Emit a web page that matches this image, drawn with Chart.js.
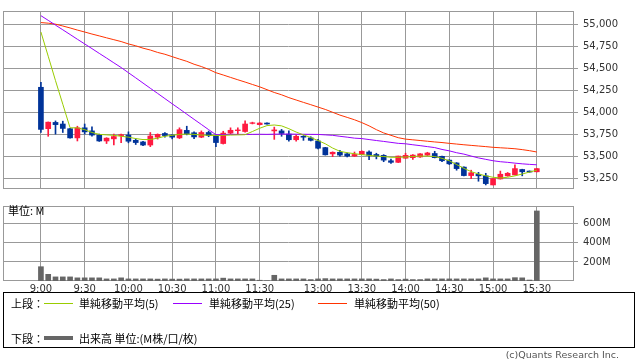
<!DOCTYPE html>
<html>
<head>
<meta charset="utf-8">
<script src="https://cdn.jsdelivr.net/npm/chart.js@4"></script>
<style>
    body { margin: 0; background: #fff; }
    #wrap { position: relative; width: 638px; height: 362px; overflow: hidden; font-family: "Noto Sans CJK JP", sans-serif; color: #000; }
    #priceBox { position: absolute; left: 0; top: 0; width: 638px; height: 200px; }
    #volBox { position: absolute; left: 0; top: 195px; width: 638px; height: 105px; }
    .txt { position: absolute; font-size: 11px; line-height: 14px; white-space: nowrap; }
    .ln { position: absolute; height: 1px; width: 29px; }
    #legend { position: absolute; left: 3px; top: 292px; width: 632px; height: 56px; box-sizing: border-box; border: 1px solid #000; }
    #copy { position: absolute; right: 19px; top: 349px; font: 9.5px "DejaVu Sans", sans-serif; color: #555; }
</style>
</head>
<body>
<div id="wrap">
    <div id="priceBox"><canvas id="priceChart"></canvas></div>
    <div id="volBox"><canvas id="volChart"></canvas></div>
    <div class="txt" style="left:8px;top:203px;">単位: M</div>
    <div id="legend">
        <div class="txt" style="left:7px;top:3px;">上段：</div>
        <div class="ln" style="left:40px;top:10px;background:#99cc00;"></div>
        <div class="txt" style="left:75px;top:3px;">単純移動平均(5)</div>
        <div class="ln" style="left:169px;top:10px;background:#9900ff;"></div>
        <div class="txt" style="left:205px;top:3px;">単純移動平均(25)</div>
        <div class="ln" style="left:314px;top:10px;background:#ff3300;"></div>
        <div class="txt" style="left:350px;top:3px;">単純移動平均(50)</div>
        <div class="txt" style="left:7px;top:38px;">下段：</div>
        <div class="ln" style="left:40px;top:43px;height:4px;background:#666;"></div>
        <div class="txt" style="left:75px;top:38px;">出来高 単位:(M株/口/枚)</div>
    </div>
    <div id="copy">(c)Quants Research Inc.</div>
</div>
<script>
// 5-minute slots, 0 = 9:00 ... 68 = 15:30
const tickSlots = [0, 6, 12, 18, 24, 30, 38, 44, 50, 56, 62, 68];
const tickLabels = ['9:00', '9:30', '10:00', '10:30', '11:00', '11:30', '13:00', '13:30', '14:00', '14:30', '15:00', '15:30'];
const priceTicks = [53250, 53500, 53750, 54000, 54250, 54500, 54750, 55000];
const volTicks = [200, 400, 600];

const open = [54285,53816,53887,53869,53816,53712,53826,53791,53744,53677,53701,53738,53744,53684,53666,53631,53720,53762,53744,53712,53797,53770,53720,53773,53738,53648,53766,53794,53784,53876,53862,53880,53791,53791,53755,53691,53730,53712,53677,53602,53531,53549,53531,53506,53524,53552,53524,53514,53453,53435,53482,53488,53496,53517,53535,53503,53460,53428,53381,53285,53300,53282,53179,53247,53282,53293,53354,53336,53328];
const high = [54342,53892,53904,53901,53821,53844,53869,53837,53755,53714,53755,53755,53780,53701,53672,53773,53757,53773,53748,53826,53844,53780,53791,53789,53746,53787,53826,53826,53904,53890,53885,53883,53834,53808,53791,53744,53738,53725,53695,53605,53554,53570,53541,53552,53565,53565,53538,53522,53471,53506,53538,53522,53533,53549,53560,53506,53464,53432,53383,53346,53322,53311,53250,53336,53320,53407,53357,53338,53366];
const low = [53773,53730,53755,53773,53709,53677,53755,53730,53672,53648,53631,53659,53656,53637,53624,53613,53698,53720,53701,53704,53746,53704,53714,53725,53613,53642,53757,53748,53778,53870,53858,53866,53695,53730,53674,53674,53684,53677,53588,53517,53499,53506,53496,53501,53522,53464,53474,53442,53424,53432,53480,53467,53490,53512,53485,53442,53410,53346,53282,53250,53221,53179,53179,53245,53277,53293,53282,53323,53326];
const close = [53808,53890,53862,53819,53712,53826,53780,53744,53677,53709,53727,53748,53674,53659,53631,53733,53752,53738,53720,53805,53759,53723,53773,53738,53659,53766,53798,53802,53869,53883,53880,53869,53802,53762,53691,53730,53720,53684,53595,53520,53549,53517,53506,53524,53560,53514,53506,53460,53435,53506,53514,53517,53531,53541,53488,53453,53418,53364,53285,53317,53282,53194,53250,53300,53311,53364,53328,53325,53364];

const ma5 = [54911,54637,54360,54093,53826,53826,53805,53773,53752,53746,53741,53730,53720,53704,53693,53693,53709,53730,53741,53752,53755,53752,53744,53741,53738,53741,53744,53746,53748,53784,53821,53851,53858,53848,53816,53778,53746,53716,53682,53645,53597,53560,53544,53533,53522,53514,53506,53501,53492,53492,53495,53501,53506,53506,53501,53480,53453,53410,53367,53330,53303,53282,53266,53258,53266,53282,53303,53325,53346];
const ma25 = [55096,55043,54989,54936,54883,54829,54776,54723,54669,54616,54562,54509,54450,54392,54333,54274,54216,54157,54098,54040,53981,53922,53864,53805,53748,53750,53752,53752,53751,53752,53753,53752,53754,53755,53755,53754,53753,53752,53751,53746,53741,53730,53720,53709,53704,53693,53682,53672,53661,53650,53645,53634,53624,53613,53602,53581,53565,53544,53528,53506,53485,53469,53453,53442,53435,53426,53418,53412,53407];
const ma50 = [55018,55011,55000,54979,54957,54933,54911,54888,54867,54845,54824,54803,54776,54755,54728,54707,54680,54659,54632,54605,54579,54546,54520,54488,54450,54424,54397,54370,54344,54317,54290,54258,54226,54200,54168,54141,54114,54088,54061,54034,54002,53970,53944,53917,53885,53848,53805,53768,53741,53714,53698,53690,53682,53674,53666,53659,53650,53642,53634,53627,53620,53613,53605,53600,53595,53589,53579,53567,53552];

// volume in millions
const volume = [150,70,43,43,43,33,33,33,33,22,22,33,22,22,22,22,20,22,20,20,22,22,22,22,22,30,22,22,22,22,8,3,60,22,22,22,22,15,22,25,22,22,22,22,22,22,20,15,22,15,20,15,15,22,22,22,22,22,22,22,22,33,22,22,22,35,33,10,735];

const gridColor = '#999';
const upColor = '#ff1a40';
const downColor = '#003399';
const tickFont = { family: 'DejaVu Sans', size: 10 };

const candleColors = open.map((o, i) => close[i] >= o ? upColor : downColor);
const xy = (arr) => arr.map((v, i) => ({ x: i, y: v }));

const frame = {
    id: 'frame',
    beforeDatasetsDraw(chart) {
        const { ctx, chartArea: a } = chart;
        ctx.save();
        ctx.strokeStyle = gridColor;
        ctx.lineWidth = 1;
        ctx.strokeRect(Math.round(a.left) + 0.5, Math.round(a.top) + 0.5, Math.round(a.width) - 1, Math.round(a.height) - 1);
        ctx.restore();
    }
};

const xScale = (showLabels) => ({
    type: 'linear',
    min: -5.2,
    max: 73.1,
    offset: false,
    afterBuildTicks: (s) => { s.ticks = tickSlots.map(v => ({ value: v })); },
    afterFit: (s) => { s.height = showLabels ? 19 : 0; },
    grid: { color: gridColor, drawTicks: false, offset: false },
    border: { display: false },
    ticks: {
        display: showLabels,
        autoSkip: false,
        maxRotation: 0,
        padding: 2,
        color: '#333',
        font: tickFont,
        callback: (v, i) => tickLabels[i]
    }
});

const rightAxis = (min, max, ticks, fmt) => ({
    position: 'right',
    min, max,
    afterBuildTicks: (s) => { s.ticks = ticks.map(v => ({ value: v })); },
    afterFit: (s) => { s.width = 64; },
    grid: { color: gridColor, tickLength: 4, tickColor: gridColor },
    border: { display: false },
    ticks: { padding: 5, color: '#333', font: tickFont, callback: fmt }
});

new Chart(document.getElementById('priceChart'), {
    type: 'bar',
    data: {
        datasets: [
            { type: 'line', data: xy(ma5), borderColor: '#99cc00', borderWidth: 1, pointRadius: 0, order: 0 },
            { type: 'line', data: xy(ma25), borderColor: '#9900ff', borderWidth: 1, pointRadius: 0, order: 0 },
            { type: 'line', data: xy(ma50), borderColor: '#ff3300', borderWidth: 1, pointRadius: 0, order: 0 },
            {
                data: open.map((o, i) => ({ x: i, y: [o, close[i]] })),
                backgroundColor: candleColors, barThickness: 5, grouped: false, order: 1
            },
            {
                data: low.map((l, i) => ({ x: i, y: [l, high[i]] })),
                backgroundColor: candleColors, barThickness: 1, grouped: false, order: 2
            }
        ]
    },
    options: {
        responsive: true,
        maintainAspectRatio: false,
        animation: false,
        layout: { padding: { left: 3, top: 1, bottom: 10, right: 0 } },
        plugins: { legend: { display: false }, tooltip: { enabled: false } },
        scales: {
            x: xScale(false),
            y: rightAxis(53133, 55149, priceTicks, v => v.toLocaleString('en-US'))
        }
    },
    plugins: [frame]
});

new Chart(document.getElementById('volChart'), {
    type: 'bar',
    data: {
        datasets: [{
            data: xy(volume),
            backgroundColor: '#666',
            barThickness: 5,
            grouped: false
        }]
    },
    options: {
        responsive: true,
        maintainAspectRatio: false,
        animation: false,
        layout: { padding: { left: 3, top: 7, bottom: 0, right: 0 } },
        plugins: { legend: { display: false }, tooltip: { enabled: false } },
        scales: {
            x: xScale(true),
            y: rightAxis(0, 787, volTicks, v => v + 'M')
        }
    },
    plugins: [frame]
});
</script>
</body>
</html>
